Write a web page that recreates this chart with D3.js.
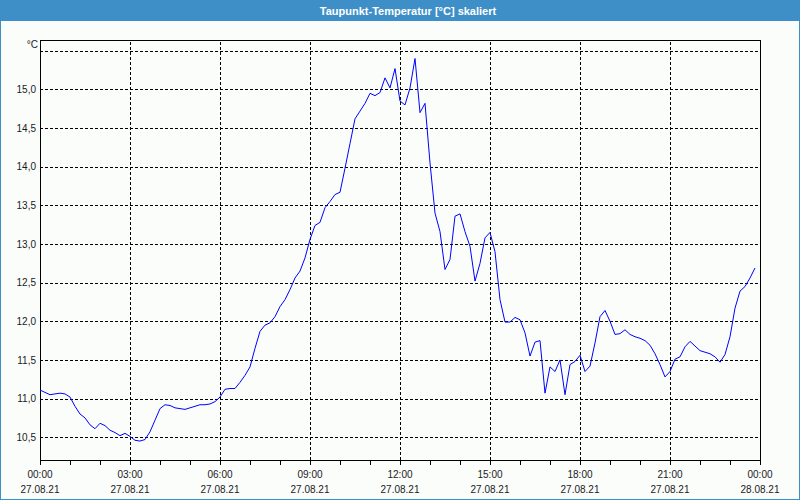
<!DOCTYPE html>
<html>
<head>
<meta charset="utf-8">
<script src="https://cdn.jsdelivr.net/npm/d3@7/dist/d3.min.js"></script>
<style>
  html, body { margin: 0; padding: 0; background: #fbfdfb; }
  svg { display: block; }
  text { font-family: "Liberation Sans", Arial, sans-serif; }
</style>
</head>
<body>
<svg id="chart" width="800" height="500"></svg>
<script>
const title = "Taupunkt-Temperatur [°C] skaliert";
const unitLabel = "°C";
const day = "2021-08-27";

const times = [
  "00:00","00:10","00:20","00:30","00:40","00:50","01:00","01:10","01:20","01:30","01:40","01:50",
  "02:00","02:10","02:20","02:30","02:40","02:50","03:00","03:10","03:20","03:30","03:40","03:50",
  "04:00","04:10","04:20","04:30","04:40","04:50","05:00","05:10","05:20","05:30","05:40","05:50",
  "06:00","06:10","06:20","06:30","06:40","06:50","07:00","07:10","07:20","07:30","07:40","07:50",
  "08:00","08:10","08:20","08:30","08:40","08:50","09:00","09:10","09:20","09:30","09:40","09:50",
  "10:00","10:10","10:20","10:30","10:40","10:50","11:00","11:10","11:20","11:30","11:40","11:50",
  "12:00","12:10","12:20","12:30","12:40","12:50","13:00","13:10","13:20","13:30","13:40","13:50",
  "14:00","14:10","14:20","14:30","14:40","14:50","15:00","15:10","15:20","15:30","15:40","15:50",
  "16:00","16:10","16:20","16:30","16:40","16:50","17:00","17:10","17:20","17:30","17:40","17:50",
  "18:00","18:10","18:20","18:30","18:40","18:50","19:00","19:10","19:20","19:30","19:40","19:50",
  "20:00","20:10","20:20","20:30","20:40","20:50","21:00","21:10","21:20","21:30","21:40","21:50",
  "22:00","22:10","22:20","22:30","22:40","22:50","23:00","23:10","23:20","23:30","23:40","23:50"
];

const dewPoint = [
  11.11,11.08,11.05,11.06,11.07,11.06,11.02,10.90,10.80,10.75,10.66,10.61,
  10.68,10.65,10.59,10.56,10.52,10.55,10.51,10.46,10.45,10.47,10.57,10.72,
  10.87,10.92,10.91,10.88,10.87,10.86,10.88,10.90,10.92,10.92,10.93,10.96,
  11.02,11.12,11.13,11.13,11.21,11.30,11.41,11.65,11.87,11.95,11.98,12.06,
  12.19,12.28,12.41,12.56,12.65,12.82,13.06,13.24,13.28,13.47,13.55,13.64,
  13.67,13.98,14.30,14.62,14.72,14.82,14.95,14.92,14.96,15.15,15.02,15.27,
  14.85,14.80,15.02,15.40,14.70,14.82,14.05,13.40,13.16,12.67,12.80,13.36,
  13.39,13.16,12.97,12.52,12.75,13.08,13.15,12.90,12.28,11.99,11.99,12.05,
  12.02,11.85,11.55,11.73,11.75,11.07,11.41,11.35,11.50,11.05,11.44,11.48,
  11.56,11.35,11.42,11.72,12.06,12.14,12.00,11.83,11.84,11.89,11.83,11.80,
  11.78,11.75,11.69,11.58,11.44,11.28,11.35,11.51,11.54,11.67,11.74,11.68,
  11.62,11.60,11.58,11.54,11.47,11.57,11.80,12.17,12.39,12.45,12.56,12.69
];

const yTicks = [10.5, 11.0, 11.5, 12.0, 12.5, 13.0, 13.5, 14.0, 14.5, 15.0, 15.5];
const yLabels = ["10,5","11,0","11,5","12,0","12,5","13,0","13,5","14,0","14,5","15,0",""];
const xTickTimes = ["2021-08-27T00:00","2021-08-27T03:00","2021-08-27T06:00","2021-08-27T09:00",
  "2021-08-27T12:00","2021-08-27T15:00","2021-08-27T18:00","2021-08-27T21:00","2021-08-28T00:00"];
const xTimeLabels = ["00:00","03:00","06:00","09:00","12:00","15:00","18:00","21:00","00:00"];
const xDateLabels = ["27.08.21","27.08.21","27.08.21","27.08.21","27.08.21","27.08.21","27.08.21","27.08.21","28.08.21"];
const yDomain = [10.205, 15.64];

const W = 800, H = 500;
const m = { left: 40, right: 760, top: 40, bottom: 460 };
const svg = d3.select("#chart");

svg.append("rect").attr("x", 0).attr("y", 0).attr("width", W).attr("height", H).attr("fill", "#fbfdfb");

// title bar
svg.append("rect").attr("x", 0).attr("y", 0).attr("width", W).attr("height", 21).attr("fill", "#3e8fc7");
svg.append("text").attr("x", 408).attr("y", 14.5).attr("text-anchor", "middle")
  .attr("fill", "#ffffff").attr("font-size", 11).attr("font-weight", "bold").text(title);

const parse = d3.timeParse("%Y-%m-%dT%H:%M");
const x = d3.scaleTime()
  .domain([parse("2021-08-27T00:00"), parse("2021-08-28T00:00")])
  .range([m.left, m.right]);
const y = d3.scaleLinear().domain(yDomain).range([m.bottom, m.top]);

const data = times.map((t, i) => ({ t: parse(day + "T" + t), v: dewPoint[i] }));

// horizontal grid
const gy = svg.append("g").attr("transform", `translate(${m.left},0)`)
  .call(d3.axisLeft(y).tickValues(yTicks).tickSize(-(m.right - m.left)).tickFormat(""));
gy.select(".domain").remove();
gy.selectAll("line").attr("stroke", "#000").attr("stroke-dasharray", "3,2").attr("shape-rendering", "crispEdges");

// vertical grid
const xGridTicks = xTickTimes.slice(1, -1).map(parse);
const gx = svg.append("g").attr("transform", `translate(0,${m.bottom})`)
  .call(d3.axisBottom(x).tickValues(xGridTicks).tickSize(-(m.bottom - m.top)).tickFormat(""));
gx.select(".domain").remove();
gx.selectAll("line").attr("stroke", "#000").attr("stroke-dasharray", "3,2").attr("shape-rendering", "crispEdges");

// frame
svg.append("rect").attr("x", m.left + 0.5).attr("y", m.top + 0.5)
  .attr("width", m.right - m.left).attr("height", m.bottom - m.top)
  .attr("fill", "none").attr("stroke", "#000").attr("stroke-width", 1).attr("shape-rendering", "crispEdges");

// y labels
const yl = svg.append("g").attr("transform", `translate(${m.left},0)`)
  .call(d3.axisLeft(y).tickValues(yTicks).tickSize(0).tickPadding(4)
    .tickFormat((d, i) => yLabels[i]));
yl.select(".domain").remove();
yl.selectAll("text").attr("font-size", 10).attr("fill", "#1a1a1a")
  .attr("font-family", "Liberation Sans, Arial, sans-serif");

svg.append("text").attr("x", 38).attr("y", 48).attr("text-anchor", "end")
  .attr("font-size", 10).attr("fill", "#1a1a1a").text(unitLabel);

// hourly ticks under axis
const hourTicks = d3.timeHour.every(1).range(parse("2021-08-27T00:00"), d3.timeMinute.offset(parse("2021-08-28T00:00"), 1));
const ht = svg.append("g").attr("transform", `translate(0,${m.bottom + 1})`)
  .call(d3.axisBottom(x).tickValues(hourTicks).tickSize(4).tickFormat(""));
ht.select(".domain").remove();
ht.selectAll("line").attr("stroke", "#000").attr("shape-rendering", "crispEdges");

// x labels (two lines)
const xTicksParsed = xTickTimes.map(parse);
const xl = svg.append("g");
xTicksParsed.forEach((d, i) => {
  xl.append("text").attr("x", x(d)).attr("y", 478).attr("text-anchor", "middle")
    .attr("font-size", 10).attr("fill", "#1a1a1a").text(xTimeLabels[i]);
  xl.append("text").attr("x", x(d)).attr("y", 493).attr("text-anchor", "middle")
    .attr("font-size", 10).attr("fill", "#1a1a1a").text(xDateLabels[i]);
});

// line
const line = d3.line().x(d => x(d.t)).y(d => y(d.v));
svg.append("path").datum(data).attr("d", line)
  .attr("fill", "none").attr("stroke", "#0000ff").attr("stroke-width", 1);

// outer border
svg.append("rect").attr("x", 0.5).attr("y", 0.5).attr("width", W - 1).attr("height", H - 1)
  .attr("fill", "none").attr("stroke", "#3e8fc7").attr("stroke-width", 1);
</script>
</body>
</html>
